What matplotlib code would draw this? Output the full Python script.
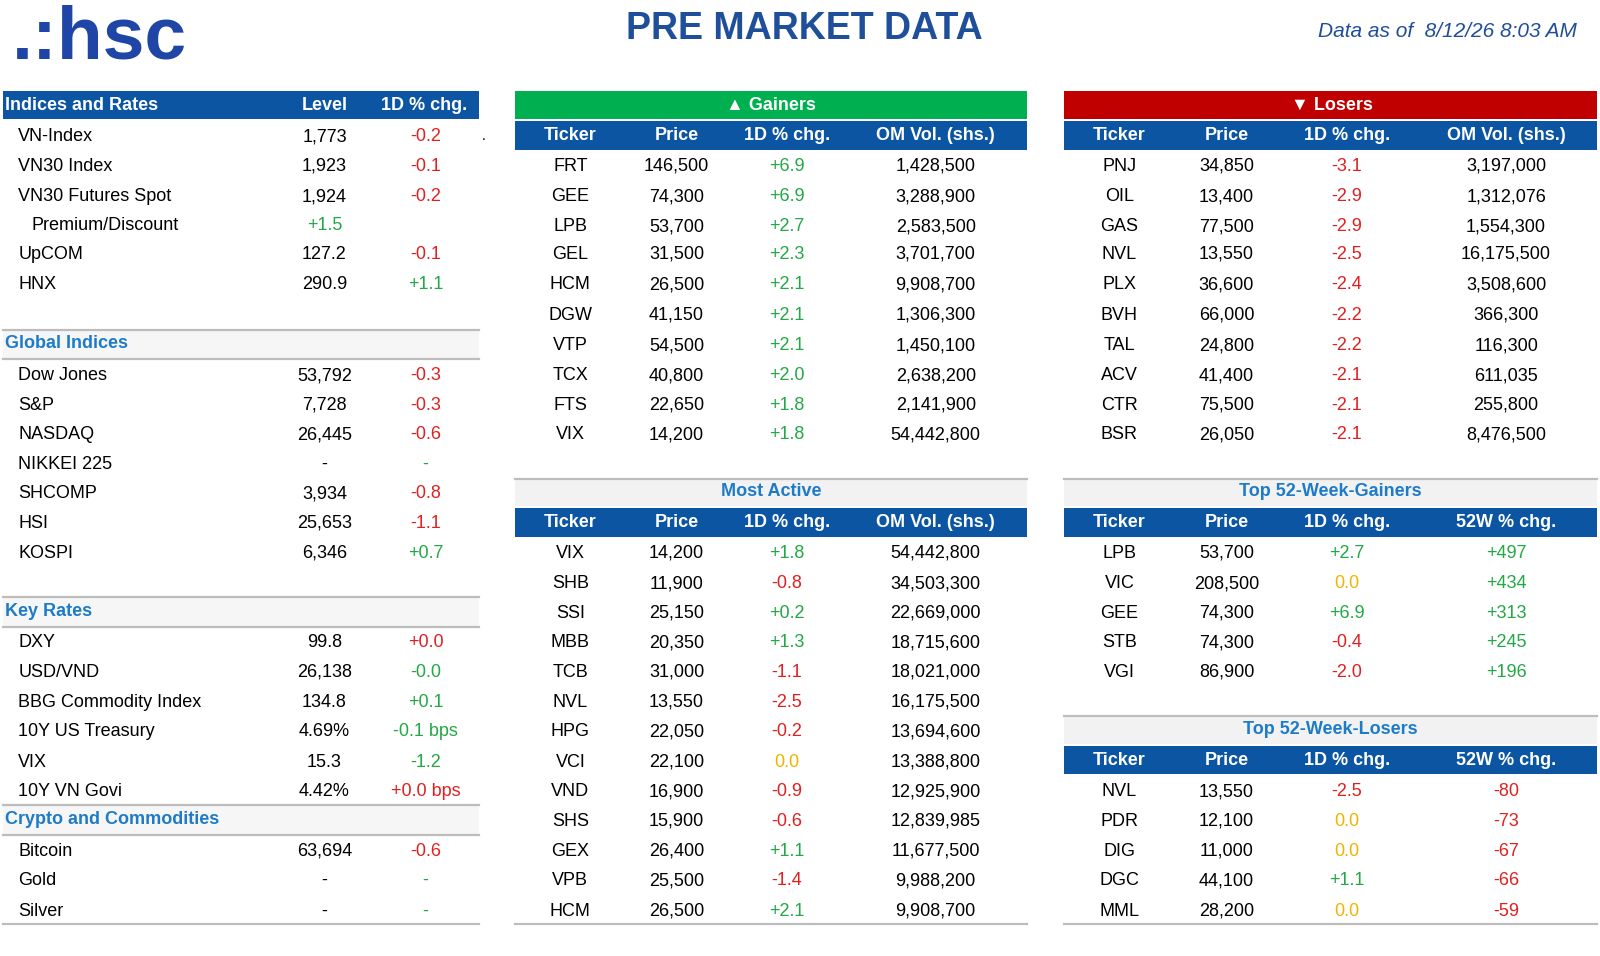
import matplotlib
matplotlib.use("Agg")
import matplotlib.pyplot as plt
from matplotlib.patches import Rectangle

plt.rcParams["font.family"] = ["Liberation Sans", "DejaVu Sans"]

S = 1600 / 1568  # layout was measured on a 1568-wide view

BLUE = "#0B55A3"
GREEN_BAR = "#00B050"
RED_BAR = "#C00000"
SEC = "#1E7BC8"
RED = "#E02020"
GRN = "#22A845"
YEL = "#F0B400"
TITLE = "#1F4E9A"

# ---- data ----
ind_names = ["VN-Index", "VN30 Index", "VN30 Futures Spot", "Premium/Discount", "UpCOM", "HNX"]
ind_level = ["1,773", "1,923", "1,924", "+1.5", "127.2", "290.9"]
ind_chg = ["-0.2", "-0.1", "-0.2", "", "-0.1", "+1.1"]

glob_names = ["Dow Jones", "S&P", "NASDAQ", "NIKKEI 225", "SHCOMP", "HSI", "KOSPI"]
glob_level = ["53,792", "7,728", "26,445", "-", "3,934", "25,653", "6,346"]
glob_chg = ["-0.3", "-0.3", "-0.6", "-", "-0.8", "-1.1", "+0.7"]

rate_names = ["DXY", "USD/VND", "BBG Commodity Index", "10Y US Treasury", "VIX", "10Y VN Govi"]
rate_level = ["99.8", "26,138", "134.8", "4.69%", "15.3", "4.42%"]
rate_chg = ["+0.0", "-0.0", "+0.1", "-0.1 bps", "-1.2", "+0.0 bps"]
rate_good = [False, True, True, True, True, False]  # colour in the sheet: good = green

cry_names = ["Bitcoin", "Gold", "Silver"]
cry_level = ["63,694", "-", "-"]
cry_chg = ["-0.6", "-", "-"]

gain_tk = ["FRT", "GEE", "LPB", "GEL", "HCM", "DGW", "VTP", "TCX", "FTS", "VIX"]
gain_px = ["146,500", "74,300", "53,700", "31,500", "26,500", "41,150", "54,500", "40,800", "22,650", "14,200"]
gain_chg = ["+6.9", "+6.9", "+2.7", "+2.3", "+2.1", "+2.1", "+2.1", "+2.0", "+1.8", "+1.8"]
gain_vol = ["1,428,500", "3,288,900", "2,583,500", "3,701,700", "9,908,700", "1,306,300",
            "1,450,100", "2,638,200", "2,141,900", "54,442,800"]

lose_tk = ["PNJ", "OIL", "GAS", "NVL", "PLX", "BVH", "TAL", "ACV", "CTR", "BSR"]
lose_px = ["34,850", "13,400", "77,500", "13,550", "36,600", "66,000", "24,800", "41,400", "75,500", "26,050"]
lose_chg = ["-3.1", "-2.9", "-2.9", "-2.5", "-2.4", "-2.2", "-2.2", "-2.1", "-2.1", "-2.1"]
lose_vol = ["3,197,000", "1,312,076", "1,554,300", "16,175,500", "3,508,600", "366,300",
            "116,300", "611,035", "255,800", "8,476,500"]

act_tk = ["VIX", "SHB", "SSI", "MBB", "TCB", "NVL", "HPG", "VCI", "VND", "SHS", "GEX", "VPB", "HCM"]
act_px = ["14,200", "11,900", "25,150", "20,350", "31,000", "13,550", "22,050", "22,100",
          "16,900", "15,900", "26,400", "25,500", "26,500"]
act_chg = ["+1.8", "-0.8", "+0.2", "+1.3", "-1.1", "-2.5", "-0.2", "0.0", "-0.9", "-0.6", "+1.1", "-1.4", "+2.1"]
act_vol = ["54,442,800", "34,503,300", "22,669,000", "18,715,600", "18,021,000", "16,175,500",
           "13,694,600", "13,388,800", "12,925,900", "12,839,985", "11,677,500", "9,988,200", "9,908,700"]

w52g_tk = ["LPB", "VIC", "GEE", "STB", "VGI"]
w52g_px = ["53,700", "208,500", "74,300", "74,300", "86,900"]
w52g_chg = ["+2.7", "0.0", "+6.9", "-0.4", "-2.0"]
w52g_52w = ["+497", "+434", "+313", "+245", "+196"]

w52l_tk = ["NVL", "PDR", "DIG", "DGC", "MML"]
w52l_px = ["13,550", "12,100", "11,000", "44,100", "28,200"]
w52l_chg = ["-2.5", "0.0", "0.0", "+1.1", "0.0"]
w52l_52w = ["-80", "-73", "-67", "-66", "-59"]


def col_of(v):
    if v == "-":
        return GRN
    if v.startswith("+"):
        return GRN
    if v.startswith("-"):
        return RED
    if v.startswith("0.0"):
        return YEL
    return "black"


fig = plt.figure(figsize=(16, 9.56), dpi=100)
ax = fig.add_axes([0, 0, 1, 1])
ax.set_xlim(0, 1600)
ax.set_ylim(956, 0)
ax.axis("off")


def T(x, y, s, **kw):
    kw.setdefault("va", "center")
    kw.setdefault("fontsize", 13)
    ax.text(x * S, y * S, s, **kw)


def R(x0, y0, x1, y1, c, **kw):
    ax.add_patch(Rectangle((x0 * S, y0 * S), (x1 - x0) * S, (y1 - y0) * S, color=c, lw=0, **kw))


def L(x0, x1, y, c="#BDBDBD", lw=1.6):
    ax.plot([x0 * S, x1 * S], [y * S, y * S], color=c, lw=lw)


# header
T(12, 38, ".:hsc", fontsize=54, fontweight="bold", color="#1F45A6")
T(788, 28, "PRE MARKET DATA", fontsize=27, fontweight="bold", color=TITLE, ha="center")
T(1545, 31, "Data as of  8/12/26 8:03 AM", fontsize=15, style="italic", color=TITLE, ha="right")

# ---- left panel ----
LX0, LX1 = 3, 469
R(LX0, 89, LX1, 117, BLUE)
T(5, 103, "Indices and Rates", color="white", fontweight="bold", ha="left")
T(318, 103, "Level", color="white", fontweight="bold", ha="center")
T(416, 103, "1D % chg.", color="white", fontweight="bold", ha="center")
T(474, 133, ".", fontsize=10, ha="center")


def left_rows(names, levels, chgs, ys, indent=None, colours=None):
    for i, (n, lv, ch, y) in enumerate(zip(names, levels, chgs, ys)):
        x = 31 if indent == i else 18
        T(x, y, n, ha="left")
        T(318, y, lv, ha="center", color=GRN if lv.startswith("+") else "black")
        c = colours[i] if colours else col_of(ch)
        T(417, y, ch, ha="center", color=c)


left_rows(ind_names, ind_level, ind_chg, [134, 163, 193, 221, 249, 279], indent=3)


def section(label, y_top):
    R(LX0, y_top, LX1, y_top + 29, "#F6F6F6")
    L(LX0, LX1, y_top)
    L(LX0, LX1, y_top + 29)
    T(5, y_top + 14, label, color=SEC, fontweight="bold", ha="left")


section("Global Indices", 323)
left_rows(glob_names, glob_level, glob_chg, [368, 397, 426, 455, 484, 513, 542])
section("Key Rates", 585)
left_rows(rate_names, rate_level, rate_chg, [630, 659, 688, 717, 747, 776],
          colours=[GRN if g else RED for g in rate_good])
section("Crypto and Commodities", 789)
left_rows(cry_names, cry_level, cry_chg, [834, 863, 893])
L(LX0, LX1, 906)


# ---- right-side tables ----
def col_header(x0, x1, y0, xs, labels):
    R(x0, y0, x1, y0 + 28, BLUE)
    for x, lab in zip(xs, labels):
        T(x, y0 + 14, lab, color="white", fontweight="bold", ha="center")


def table_rows(xs, cols, ys, coloured=(2,)):
    for j, y in enumerate(ys):
        for k, (x, c) in enumerate(zip(xs, cols)):
            v = c[j]
            T(x, y + 1, v, ha="center", color=col_of(v) if k in coloured else "black")


def gray_title(x0, x1, y0, label):
    R(x0, y0, x1, y0 + 27, "#F2F2F2")
    L(x0, x1, y0)
    T((x0 + x1) / 2, y0 + 13, label, color=SEC, fontweight="bold", ha="center")


MX0, MX1 = 505, 1006
mxs = [559, 663, 771, 917]
mlabs = ["Ticker", "Price", "1D % chg.", "OM Vol. (shs.)"]
R(MX0, 89, MX1, 117, GREEN_BAR)
T(756, 103, "\u25B2 Gainers", color="white", fontweight="bold", ha="center",
  family=["Liberation Sans", "DejaVu Sans"])
col_header(MX0, MX1, 119, mxs, mlabs)
table_rows(mxs, [gain_tk, gain_px, gain_chg, gain_vol], [162, 192, 221, 248, 278, 308, 338, 367, 396, 425])

gray_title(MX0, MX1, 469, "Most Active")
col_header(MX0, MX1, 498, mxs, mlabs)
table_rows(mxs, [act_tk, act_px, act_chg, act_vol],
           [541, 571, 600, 629, 658, 687, 716, 746, 775, 804, 833, 862, 892])
L(MX0, MX1, 906)

RX0, RX1 = 1043, 1565
rxs = [1097, 1202, 1320, 1476]
R(RX0, 89, RX1, 117, RED_BAR)
T(1305, 103, "\u25BC Losers", color="white", fontweight="bold", ha="center",
  family=["Liberation Sans", "DejaVu Sans"])
col_header(RX0, RX1, 119, rxs, mlabs)
table_rows(rxs, [lose_tk, lose_px, lose_chg, lose_vol], [162, 192, 221, 248, 278, 308, 338, 367, 396, 425])

wlabs = ["Ticker", "Price", "1D % chg.", "52W % chg."]
gray_title(RX0, RX1, 469, "Top 52-Week-Gainers")
col_header(RX0, RX1, 498, rxs, wlabs)
table_rows(rxs, [w52g_tk, w52g_px, w52g_chg, w52g_52w], [541, 571, 600, 629, 658], coloured=(2, 3))

gray_title(RX0, RX1, 702, "Top 52-Week-Losers")
col_header(RX0, RX1, 731, rxs, wlabs)
table_rows(rxs, [w52l_tk, w52l_px, w52l_chg, w52l_52w], [775, 804, 833, 862, 892], coloured=(2, 3))
L(RX0, RX1, 906)

fig.savefig("out.png", dpi=100)
